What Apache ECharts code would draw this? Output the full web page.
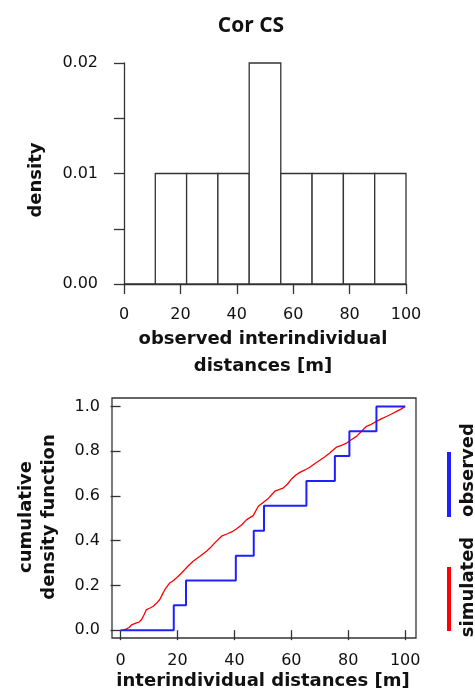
<!DOCTYPE html>
<html>
<head>
<meta charset="utf-8">
<script src="https://cdn.jsdelivr.net/npm/echarts@6/dist/echarts.min.js"></script>
<style>
html,body{margin:0;padding:0;background:#fff;}
#chart{width:475px;height:695px;}
</style>
</head>
<body>
<div id="chart"></div>
<script>
// ---- data ----
const binEdges = [0, 11.1, 22.2, 33.3, 44.4, 55.6, 66.7, 77.8, 88.9, 100];
const binDensity = [0, 0.01, 0.01, 0.01, 0.02, 0.01, 0.01, 0.01, 0.01];
const histXTicks = [0, 20, 40, 60, 80, 100];
const histYTicks = [0, 0.005, 0.01, 0.015, 0.02];
const histYLabels = [0, 0.01, 0.02];

const obsX = [0, 18.7, 23.0, 40.5, 46.8, 50.4, 65.3, 75.3, 80.4, 89.9, 100];
const obsY = [0, 0.111, 0.222, 0.333, 0.444, 0.556, 0.667, 0.778, 0.889, 1.0, 1.0];

const simX = [1.0, 2.1, 3.0, 3.9, 5.6, 6.5, 7.4, 8.3, 9.1, 10.2, 11.5, 12.6, 13.8, 14.7, 15.6, 17.3, 18.4, 19.7, 21.0, 22.6, 24.0, 25.5, 27.9, 30.2, 31.5, 33.1, 35.5, 37.8, 39.2, 40.7, 42.5, 44.3, 46.6, 48.4, 50.1, 52.0, 54.2, 57.1, 58.6, 60.1, 61.5, 63.0, 64.8, 66.5, 68.3, 70.0, 71.8, 73.5, 75.9, 77.6, 79.4, 81.2, 82.9, 84.6, 86.4, 88.1, 89.9, 91.6, 93.4, 95.2, 97.0, 98.5, 100];
const simY = [0.0, 0.006, 0.012, 0.024, 0.033, 0.036, 0.048, 0.070, 0.092, 0.098, 0.107, 0.120, 0.137, 0.160, 0.182, 0.211, 0.220, 0.234, 0.250, 0.271, 0.290, 0.308, 0.330, 0.353, 0.368, 0.390, 0.420, 0.432, 0.440, 0.452, 0.470, 0.494, 0.512, 0.554, 0.571, 0.590, 0.621, 0.635, 0.652, 0.676, 0.692, 0.705, 0.716, 0.728, 0.745, 0.759, 0.775, 0.792, 0.818, 0.826, 0.836, 0.852, 0.866, 0.888, 0.911, 0.920, 0.933, 0.944, 0.955, 0.966, 0.978, 0.988, 1.0];

const bottomXTicks = [0, 20, 40, 60, 80, 100];
const bottomYTicks = [0, 0.2, 0.4, 0.6, 0.8, 1.0];

// ---- build ----
const histData = binDensity.map((d, i) => [binEdges[i], binEdges[i + 1], d]);
const obsData = obsX.map((x, i) => [x, obsY[i]]);
const simData = simX.map((x, i) => [x, simY[i]]);

const tickFont = {fontFamily: 'DejaVu Sans', fontSize: 16, color: '#111'};
const titleFont = 'DejaVu Sans';
const axisColor = '#333';

const chart = echarts.init(document.getElementById('chart'), null, {renderer: 'canvas'});
chart.setOption({
  backgroundColor: '#fff',
  animation: false,
  grid: [
    {left: 124, top: 63, width: 282, height: 221, show: false},
    {left: 112, top: 398, width: 304, height: 240, show: true,
     borderColor: axisColor, borderWidth: 1.3, backgroundColor: 'transparent'}
  ],
  xAxis: [
    {gridIndex: 0, type: 'value', min: 0, max: 100, interval: 20, offset: 10,
     splitLine: {show: false},
     axisLine: {show: true, lineStyle: {color: axisColor, width: 1.3}},
     axisTick: {show: true, length: 10, lineStyle: {color: axisColor, width: 1.3}, customValues: histXTicks},
     axisLabel: Object.assign({margin: 13, customValues: histXTicks}, tickFont)},
    {gridIndex: 1, type: 'value', min: -3, max: 103.8,
     splitLine: {show: false},
     axisLine: {show: false},
     axisTick: {show: true, length: 10, lineStyle: {color: axisColor, width: 1.3}, customValues: bottomXTicks},
     axisLabel: Object.assign({margin: 15, customValues: bottomXTicks}, tickFont)}
  ],
  yAxis: [
    {gridIndex: 0, type: 'value', min: 0, max: 0.02, interval: 0.005, offset: 12,
     splitLine: {show: false},
     axisLine: {show: true, lineStyle: {color: axisColor, width: 1.3}},
     axisTick: {show: true, length: 10, lineStyle: {color: axisColor, width: 1.3}, customValues: histYTicks},
     axisLabel: Object.assign({margin: 14, customValues: histYLabels,
       formatter: v => v.toFixed(2)}, tickFont)},
    {gridIndex: 1, type: 'value', min: -0.035, max: 1.0375,
     splitLine: {show: false},
     axisLine: {show: false},
     axisTick: {show: true, length: 10, lineStyle: {color: axisColor, width: 1.3}, customValues: bottomYTicks},
     axisLabel: Object.assign({margin: 12, customValues: bottomYTicks,
       formatter: v => v.toFixed(1)}, tickFont)}
  ],
  series: [
    {
      type: 'custom', xAxisIndex: 0, yAxisIndex: 0,
      data: histData,
      encode: {x: [0, 1], y: 2},
      renderItem: function (params, api) {
        const p0 = api.coord([api.value(0), 0]);
        const p1 = api.coord([api.value(1), api.value(2)]);
        return {
          type: 'rect',
          shape: {x: p0[0], y: p1[1], width: p1[0] - p0[0], height: p0[1] - p1[1]},
          style: {fill: '#fff', stroke: axisColor, lineWidth: 1.3}
        };
      }
    },
    {
      name: 'simulated', type: 'line', xAxisIndex: 1, yAxisIndex: 1,
      data: simData, symbol: 'none',
      lineStyle: {color: '#ff0000', width: 1.3}
    },
    {
      name: 'observed', type: 'line', xAxisIndex: 1, yAxisIndex: 1,
      data: obsData, symbol: 'none', step: 'end',
      lineStyle: {color: '#2020ff', width: 2}
    }
  ],
  graphic: [
    {type: 'text', x: 251, y: 26, style: {text: 'Cor CS', font: 'bold 21px "Open Sans"',
      fill: '#111', align: 'center', verticalAlign: 'middle'}},
    {type: 'text', x: 36, y: 180, rotation: Math.PI / 2, style: {text: 'density',
      font: 'bold 18px "' + titleFont + '"', fill: '#111', align: 'center', verticalAlign: 'middle'}},
    {type: 'text', x: 263, y: 353, style: {text: 'observed interindividual\ndistances [m]',
      font: 'bold 18px "' + titleFont + '"', lineHeight: 27, fill: '#111', align: 'center', verticalAlign: 'middle'}},
    {type: 'text', x: 38, y: 517, rotation: Math.PI / 2, style: {text: 'cumulative\ndensity function',
      font: 'bold 18px "' + titleFont + '"', lineHeight: 23, fill: '#111', align: 'center', verticalAlign: 'middle'}},
    {type: 'text', x: 263, y: 681, style: {text: 'interindividual distances [m]',
      font: 'bold 18px "' + titleFont + '"', fill: '#111', align: 'center', verticalAlign: 'middle'}},
    {type: 'line', shape: {x1: 449, y1: 452, x2: 449, y2: 517}, style: {stroke: '#2020ff', lineWidth: 4}},
    {type: 'line', shape: {x1: 449, y1: 567, x2: 449, y2: 631}, style: {stroke: '#ff0000', lineWidth: 4}},
    {type: 'text', x: 468, y: 470, rotation: Math.PI / 2, style: {text: 'observed',
      font: 'bold 18px "' + titleFont + '"', fill: '#111', align: 'center', verticalAlign: 'middle'}},
    {type: 'text', x: 468, y: 587, rotation: Math.PI / 2, style: {text: 'simulated',
      font: 'bold 18px "' + titleFont + '"', fill: '#111', align: 'center', verticalAlign: 'middle'}}
  ]
});
</script>
</body>
</html>
